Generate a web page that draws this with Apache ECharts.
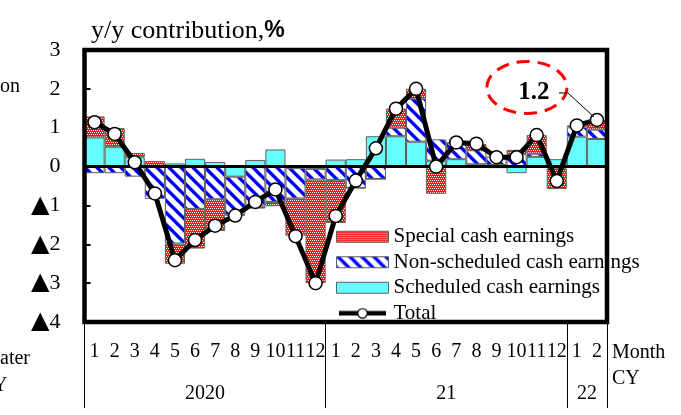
<!DOCTYPE html>
<html>
<head>
<meta charset="utf-8">
<script src="https://cdn.jsdelivr.net/npm/echarts@6/dist/echarts.min.js"></script>
<style>
  html, body { margin: 0; padding: 0; background: #fff; }
  #chart { width: 681px; height: 415px; }
</style>
</head>
<body>
<div id="chart"></div>
<script>
// Month ticks: 2020 Jan-Dec, 2021 Jan-Dec, 2022 Jan-Feb
const months = ['1','2','3','4','5','6','7','8','9','10','11','12',
                '1','2','3','4','5','6','7','8','9','10','11','12',
                '1','2'];
const yearLabels = ['2020', '21', '22'];
const yearSpans = [12, 12, 2];

// y/y contributions, % points
const scheduled    = [0.75, 0.51, 0.24, 0.02, 0.08, 0.20, 0.12, -0.26, 0.17, 0.44, -0.04, -0.06,
                      0.18, 0.19, 0.78, 0.78, 0.64, 0.15, 0.19, 0.06, 0.04, -0.17, 0.25, 0.19,
                      0.77, 0.71];
const nonScheduled = [-0.17, -0.17, -0.26, -0.83, -1.98, -1.09, -0.84, -0.98, -1.00, -0.91, -0.78, -0.27,
                      -0.35, -0.55, -0.32, 0.22, 1.11, 0.55, 0.42, 0.36, 0.22, 0.32, 0.08, -0.05,
                      0.24, 0.24];
const special      = [0.54, 0.48, 0.11, 0.12, -0.52, -1.02, -0.82, -0.02, -0.08, -0.11, -0.96, -2.67,
                      -1.10, 0.00, 0.00, 0.49, 0.25, -0.70, 0.01, 0.16, -0.04, 0.11, 0.48, -0.53,
                      0.05, 0.25];
const totals       = [1.14, 0.84, 0.11, -0.69, -2.41, -1.89, -1.52, -1.26, -0.91, -0.59, -1.79, -3.00,
                      -1.27, -0.36, 0.47, 1.49, 2.00, 0.00, 0.62, 0.59, 0.24, 0.24, 0.81, -0.37,
                      1.06, 1.20];

const SERIF = '"Liberation Serif", "Times New Roman", serif';
const SANS = '"Liberation Sans", Arial, sans-serif';

// Fill patterns
function dotPattern() {
  const c = document.createElement('canvas');
  c.width = 4; c.height = 4;
  const g = c.getContext('2d');
  g.fillStyle = '#ff1010';
  g.fillRect(0, 0, 4, 4);
  g.fillStyle = '#ffffff';
  [[0,0],[2,0],[1,2],[3,2]].forEach(p => g.fillRect(p[0], p[1], 1, 1));
  return { image: c, repeat: 'repeat' };
}
function stripePattern() {
  const n = 12;
  const c = document.createElement('canvas');
  c.width = n; c.height = n;
  const g = c.getContext('2d');
  const img = g.createImageData(n, n);
  for (let y = 0; y < n; y++) {
    for (let x = 0; x < n; x++) {
      const d = ((x - y) % n + n) % n;
      let col = [255, 255, 255];
      if (d < 4) col = [0, 0, 255];
      else if (d === 4 || d === n - 1) col = [150, 150, 255];
      const i = (y * n + x) * 4;
      img.data[i] = col[0]; img.data[i + 1] = col[1]; img.data[i + 2] = col[2]; img.data[i + 3] = 255;
    }
  }
  g.putImageData(img, 0, 0);
  return { image: c, repeat: 'repeat' };
}
// Legend key for the total line: thick stroke with an open marker
function totalKey() {
  const w = 52, h = 12;
  const c = document.createElement('canvas');
  c.width = w; c.height = h;
  const g = c.getContext('2d');
  g.strokeStyle = '#000';
  g.lineWidth = 5;
  g.beginPath(); g.moveTo(0, h / 2); g.lineTo(w, h / 2); g.stroke();
  g.fillStyle = '#fff';
  g.lineWidth = 1.3;
  g.beginPath(); g.arc(w / 2, h / 2, 5.2, 0, Math.PI * 2); g.fill(); g.stroke();
  return 'image://' + c.toDataURL();
}

const GRID = { left: 84.5, top: 50, width: 522.5, height: 272 };

const chart = echarts.init(document.getElementById('chart'), null, { renderer: 'canvas' });

const barBorder = { borderColor: '#5e5e5e', borderWidth: 1 };

chart.setOption({
  animation: false,
  backgroundColor: '#fff',
  title: {
    text: '{t|y/y contribution,}{p|%}',
    left: 86, top: 13,
    textStyle: {
      fontWeight: 'normal',
      rich: {
        t: { fontFamily: SERIF, fontSize: 26, fontWeight: 'normal', color: '#000' },
        p: { fontFamily: SANS, fontSize: 23, fontWeight: 'bold', color: '#000' }
      }
    }
  },
  grid: Object.assign({ containLabel: false }, GRID),
  legend: {
    orient: 'vertical',
    left: 331, top: 219,
    itemWidth: 52, itemHeight: 11, itemGap: 0,
    selectedMode: false,
    textStyle: { fontFamily: SERIF, fontSize: 21, color: '#000', lineHeight: 25.5 },
    itemStyle: { borderColor: '#5e5e5e', borderWidth: 1 },
    data: [
      { name: 'Special cash earnings', icon: 'rect' },
      { name: 'Non-scheduled cash earnings', icon: 'rect' },
      { name: 'Scheduled cash earnings', icon: 'rect' },
      { name: 'Total', icon: totalKey() }
    ]
  },
  xAxis: [
    {
      type: 'category',
      data: months,
      position: 'bottom',
      boundaryGap: true,
      axisLine: { show: false },
      axisTick: { show: false },
      axisLabel: { interval: 0, margin: 20, fontFamily: SERIF, fontSize: 20, color: '#000', hideOverlap: false }
    },
    {
      type: 'value',
      min: 0, max: 26,
      position: 'bottom',
      axisLine: { show: false },
      splitLine: { show: false },
      axisTick: {
        show: true, inside: false, length: 86,
        customValues: [0, 12, 24, 26],
        lineStyle: { color: '#000', width: 1 }
      },
      axisLabel: {
        margin: 62,
        customValues: yearSpans.map((s, i) => yearSpans.slice(0, i).reduce((a, b) => a + b, 0) + s / 2),
        formatter: function (v) {
          let acc = 0;
          for (let i = 0; i < yearSpans.length; i++) {
            if (Math.abs(v - (acc + yearSpans[i] / 2)) < 1e-6) return yearLabels[i];
            acc += yearSpans[i];
          }
          return '';
        },
        fontFamily: SERIF, fontSize: 20, color: '#000'
      }
    }
  ],
  yAxis: {
    type: 'value',
    min: -4, max: 3, interval: 1,
    axisLine: { show: false },
    splitLine: { show: false },
    axisTick: { show: true, inside: true, length: 6, lineStyle: { color: '#000', width: 2 } },
    axisLabel: {
      margin: 24,
      fontFamily: SERIF, fontSize: 22, color: '#000',
      formatter: v => (v < 0 ? '{tri|▲}' + (-v) : String(v)),
      rich: {
        tri: { fontFamily: '"DejaVu Sans", sans-serif', fontSize: 24, color: '#000' }
      }
    }
  },
  series: [
    {
      name: 'Scheduled cash earnings', type: 'bar', stack: 'c',
      barCategoryGap: '0%',
      data: scheduled,
      itemStyle: Object.assign({ color: '#66ffff' }, barBorder)
    },
    {
      name: 'Non-scheduled cash earnings', type: 'bar', stack: 'c',
      data: nonScheduled,
      itemStyle: Object.assign({ color: stripePattern() }, barBorder)
    },
    {
      name: 'Special cash earnings', type: 'bar', stack: 'c',
      data: special,
      itemStyle: Object.assign({ color: dotPattern() }, barBorder),
      markLine: {
        silent: true, symbol: 'none', label: { show: false },
        lineStyle: { color: '#000', width: 3, type: 'solid' },
        data: [{ yAxis: 0 }]
      }
    },
    {
      name: 'Total', type: 'line', z: 5,
      data: totals,
      symbol: 'circle', symbolSize: 13,
      lineStyle: { color: '#000', width: 5 },
      itemStyle: { color: '#fff', borderColor: '#000', borderWidth: 1.5 }
    }
  ]
});

// Frame, callout and side texts
const last = totals.length - 1;
const pt = chart.convertToPixel({ seriesIndex: 3 }, [last, totals[last]]);
const tx = pt[0] - 63, ty = pt[1] - 27;

chart.setOption({
  graphic: [
    {
      type: 'rect', z: 100, silent: true,
      shape: { x: GRID.left, y: GRID.top, width: GRID.width, height: GRID.height },
      style: { fill: 'none', stroke: '#000', lineWidth: 4.5 }
    },
    {
      type: 'ellipse', z: 101, silent: true,
      shape: { cx: pt[0] - 70, cy: pt[1] - 32.5, rx: 40, ry: 26 },
      style: { fill: 'none', stroke: '#ff0000', lineWidth: 3, lineDash: [13, 8] }
    },
    {
      type: 'text', z: 102, silent: true,
      x: tx, y: ty,
      style: {
        text: totals[last].toFixed(1), fill: '#000',
        fontFamily: SERIF, fontSize: 25, fontWeight: 'bold',
        align: 'center', verticalAlign: 'middle'
      }
    },
    {
      type: 'polyline', z: 102, silent: true,
      shape: { points: [[pt[0] - 38, pt[1] - 27], [pt[0] - 29, pt[1] - 27], [pt[0] - 3, pt[1] - 3]] },
      style: { fill: 'none', stroke: '#000', lineWidth: 1 }
    },
    {
      type: 'text', silent: true, x: 612, y: 353,
      style: { text: 'Month', fill: '#000', fontFamily: SERIF, fontSize: 20, verticalAlign: 'middle' }
    },
    {
      type: 'text', silent: true, x: 612, y: 379,
      style: { text: 'CY', fill: '#000', fontFamily: SERIF, fontSize: 20, verticalAlign: 'middle' }
    },
    {
      type: 'text', silent: true, x: 0, y: 87,
      style: { text: 'on', fill: '#000', fontFamily: SERIF, fontSize: 20, verticalAlign: 'middle' }
    },
    {
      type: 'text', silent: true, x: 0, y: 359,
      style: { text: 'ater', fill: '#000', fontFamily: SERIF, fontSize: 20, verticalAlign: 'middle' }
    },
    {
      type: 'text', silent: true, x: -7, y: 386,
      style: { text: 'Y', fill: '#000', fontFamily: SERIF, fontSize: 20, verticalAlign: 'middle' }
    }
  ]
});
</script>
</body>
</html>
